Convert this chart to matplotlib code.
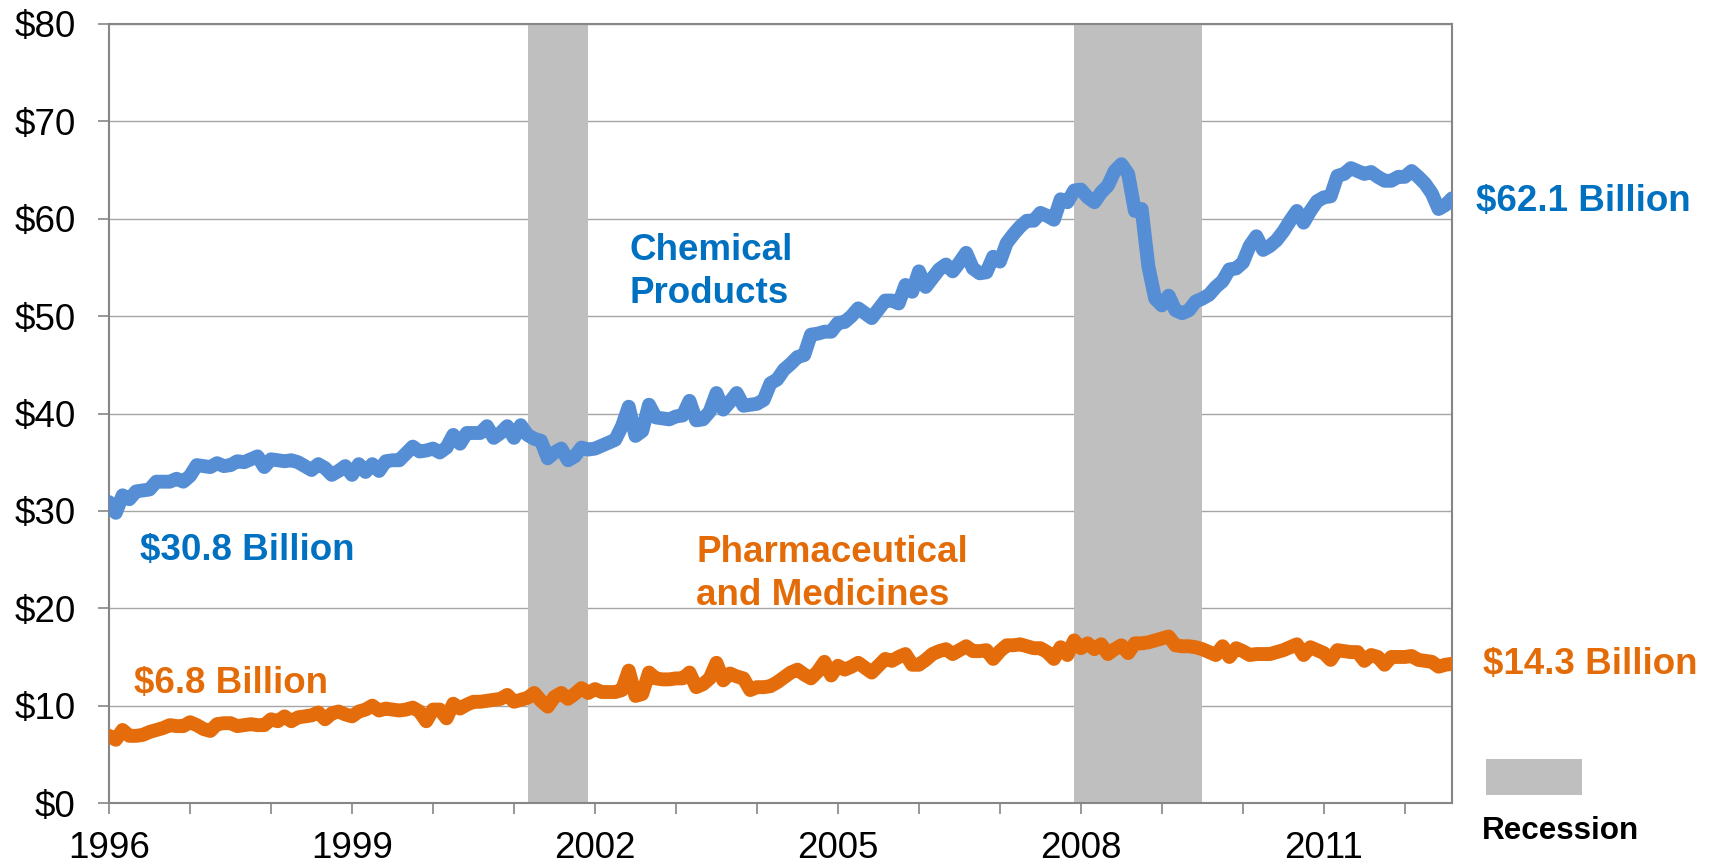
import numpy as np
import matplotlib
matplotlib.use("Agg")
import matplotlib.pyplot as plt
from matplotlib.patches import Rectangle

plt.rcParams['font.family'] = ['Liberation Sans', 'DejaVu Sans']

# monthly values, Jan 1996 .. Aug 2012 (billions of dollars)
start_year = 1996
chemical = [
    30.9, 29.8, 31.6, 31.2, 32.0, 32.1, 32.2, 33.0, 33.0, 33.0, 33.3, 33.0,  # 1996
    33.6, 34.7, 34.6, 34.5, 34.9, 34.6, 34.7, 35.1, 35.0, 35.3, 35.6, 34.5,  # 1997
    35.3, 35.2, 35.1, 35.2, 35.0, 34.6, 34.2, 34.8, 34.4, 33.7, 34.1, 34.6,  # 1998
    33.7, 34.8, 34.0, 34.8, 34.1, 35.1, 35.2, 35.2, 35.9, 36.6, 36.1, 36.2,  # 1999
    36.4, 36.0, 36.5, 37.8, 36.9, 38.0, 38.0, 38.0, 38.7, 37.5, 38.0, 38.7,  # 2000
    37.5, 38.8, 37.8, 37.4, 37.2, 35.4, 36.0, 36.4, 35.2, 35.6, 36.5, 36.3,  # 2001
    36.4, 36.7, 37.0, 37.3, 38.7, 40.7, 37.7, 38.2, 40.9, 39.6, 39.5, 39.4,  # 2002
    39.7, 39.8, 41.3, 39.3, 39.4, 40.2, 42.1, 40.4, 41.2, 42.1, 40.8, 40.9,  # 2003
    41.0, 41.4, 43.1, 43.5, 44.5, 45.1, 45.8, 46.0, 48.1, 48.2, 48.4, 48.4,  # 2004
    49.3, 49.4, 50.0, 50.8, 50.3, 49.8, 50.7, 51.6, 51.6, 51.3, 53.2, 52.5,  # 2005
    54.6, 53.0, 53.9, 54.8, 55.3, 54.6, 55.5, 56.5, 54.9, 54.4, 54.5, 56.1,  # 2006
    55.6, 57.5, 58.4, 59.2, 59.8, 59.8, 60.6, 60.3, 59.9, 62.0, 61.7, 62.9,  # 2007
    63.0, 62.2, 61.7, 62.7, 63.4, 64.9, 65.6, 64.6, 60.8, 61.0, 55.1, 51.8,  # 2008
    51.1, 52.1, 50.6, 50.3, 50.6, 51.5, 51.8, 52.2, 53.0, 53.6, 54.8, 54.9,  # 2009
    55.5, 57.2, 58.2, 56.8, 57.2, 57.8, 58.7, 59.8, 60.8, 59.6, 60.8, 61.8,  # 2010
    62.2, 62.3, 64.4, 64.6, 65.2, 64.9, 64.6, 64.8, 64.3, 63.9, 63.9, 64.3,  # 2011
    64.3, 64.9, 64.3, 63.6, 62.6, 61.0, 61.4, 62.1,                          # 2012
]
pharma = [
    6.9, 6.5, 7.5, 6.9, 6.9, 7.0, 7.3, 7.5, 7.7, 8.0, 7.9, 7.9,              # 1996
    8.3, 8.0, 7.6, 7.4, 8.1, 8.2, 8.2, 7.9, 8.0, 8.1, 8.0, 8.0,              # 1997
    8.6, 8.4, 8.9, 8.4, 8.8, 8.9, 9.0, 9.3, 8.6, 9.2, 9.4, 9.1,              # 1998
    8.9, 9.4, 9.6, 10.0, 9.5, 9.7, 9.6, 9.5, 9.6, 9.8, 9.4, 8.4,             # 1999
    9.6, 9.6, 8.7, 10.2, 9.7, 10.1, 10.4, 10.4, 10.5, 10.6, 10.7, 11.1,      # 2000
    10.4, 10.6, 10.8, 11.3, 10.5, 9.9, 10.9, 11.3, 10.7, 11.2, 11.8, 11.3,   # 2001
    11.7, 11.4, 11.4, 11.4, 11.6, 13.6, 11.0, 11.2, 13.4, 12.8, 12.7, 12.7,  # 2002
    12.8, 12.8, 13.4, 11.9, 12.2, 12.8, 14.4, 12.6, 13.3, 13.0, 12.8, 11.6,  # 2003
    11.9, 11.9, 12.0, 12.4, 12.9, 13.4, 13.7, 13.2, 12.8, 13.5, 14.5, 13.1,  # 2004
    14.1, 13.7, 14.0, 14.4, 13.9, 13.4, 14.1, 14.8, 14.6, 15.0, 15.3, 14.2,  # 2005
    14.2, 14.7, 15.3, 15.6, 15.8, 15.3, 15.7, 16.1, 15.6, 15.6, 15.7, 14.8,  # 2006
    15.6, 16.2, 16.2, 16.3, 16.1, 15.9, 15.9, 15.5, 14.8, 16.0, 15.2, 16.7,  # 2007
    15.9, 16.4, 15.8, 16.3, 15.3, 15.8, 16.2, 15.4, 16.4, 16.4, 16.5, 16.7,  # 2008
    16.9, 17.1, 16.2, 16.1, 16.1, 16.0, 15.8, 15.5, 15.2, 16.1, 15.0, 15.9,  # 2009
    15.6, 15.2, 15.3, 15.3, 15.3, 15.5, 15.7, 16.0, 16.3, 15.2, 16.0, 15.7,  # 2010
    15.4, 14.7, 15.7, 15.6, 15.5, 15.5, 14.6, 15.2, 15.0, 14.2, 15.0, 15.0,  # 2011
    15.0, 15.1, 14.7, 14.6, 14.5, 14.0, 14.2, 14.3,                          # 2012
]

# recessions (start, end) as fractional years
recession_start = [2001 + 2 / 12, 2007 + 11 / 12]
recession_end = [2001 + 11 / 12, 2009 + 6 / 12]

year_ticks = list(range(1996, 2013))
year_labels = [str(y) if (y - 1996) % 3 == 0 else "" for y in year_ticks]
y_ticks = list(range(0, 81, 10))
y_labels = [f"${v}" for v in y_ticks]

BLUE_LINE = "#558ED5"
ORANGE_LINE = "#E46C0A"
BLUE_TEXT = "#0070C0"
ORANGE_TEXT = "#E36C09"
GREY = "#BFBFBF"

x = start_year + np.arange(len(chemical)) / 12

fig = plt.figure(figsize=(17.15, 8.66), dpi=100)
ax = fig.add_axes([0.0636, 0.0727, 0.7831, 0.8996])

# recession shading
for s, e in zip(recession_start, recession_end):
    ax.axvspan(s, e, color=GREY, lw=0, zorder=1)

ax.plot(x, chemical, color=BLUE_LINE, lw=10, solid_joinstyle="round",
        solid_capstyle="round", zorder=3)
ax.plot(x, pharma, color=ORANGE_LINE, lw=10, solid_joinstyle="round",
        solid_capstyle="round", zorder=3)

ax.set_xlim(x[0], x[-1])
ax.set_ylim(0, 80)
ax.set_xticks(year_ticks)
ax.set_xticklabels(year_labels)
ax.set_yticks(y_ticks)
ax.set_yticklabels(y_labels)

ax.set_axisbelow(True)
ax.grid(axis="y", color="#A6A6A6", lw=1.0)
for sp in ax.spines.values():
    sp.set_color("#868686")
    sp.set_linewidth(1.5)
ax.tick_params(axis="both", direction="out", length=8, width=1.2,
               color="#868686", labelsize=26.5, labelcolor="black")
ax.tick_params(axis="y", pad=16)
ax.tick_params(axis="x", pad=12)

# annotations
fs = 26.5
ax.text(2002.43, 54.5, "Chemical\nProducts", color=BLUE_TEXT, fontsize=fs,
        fontweight="bold", va="center", ha="left", linespacing=1.3)
ax.text(2003.25, 23.5, "Pharmaceutical\nand Medicines", color=ORANGE_TEXT,
        fontsize=fs, fontweight="bold", va="center", ha="left", linespacing=1.3)
ax.text(1996.38, 25.95, "$30.8 Billion", color=BLUE_TEXT, fontsize=fs,
        fontweight="bold", va="center", ha="left")
ax.text(1996.31, 12.25, "$6.8 Billion", color=ORANGE_TEXT, fontsize=fs,
        fontweight="bold", va="center", ha="left")
ax.text(2012.88, 61.75, "$62.1 Billion", color=BLUE_TEXT, fontsize=fs,
        fontweight="bold", va="center", ha="left", clip_on=False)
ax.text(2012.96, 14.25, "$14.3 Billion", color=ORANGE_TEXT, fontsize=fs,
        fontweight="bold", va="center", ha="left", clip_on=False)

# recession key
fig.add_artist(Rectangle((1486 / 1715, 1 - 795 / 866), 96 / 1715, 36 / 866,
                         transform=fig.transFigure, color=GREY, lw=0))
fig.text(1482 / 1715, 1 - 831 / 866, "Recession", fontsize=22.6,
         fontweight="bold", va="center", ha="left")

fig.savefig("out.png", dpi=100)
